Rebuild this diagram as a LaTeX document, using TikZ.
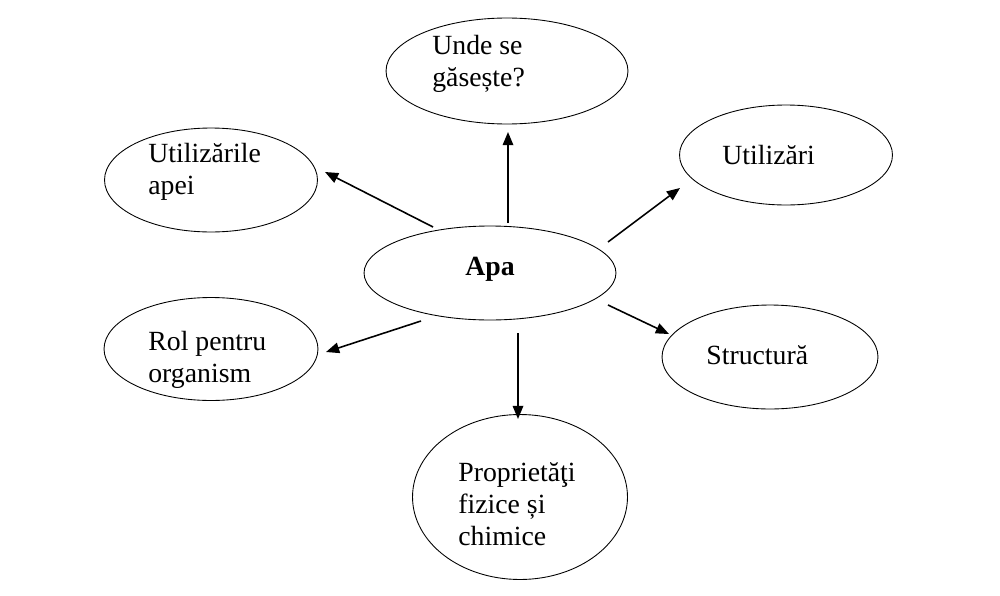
\documentclass[tikz,border=0pt]{standalone}
\usepackage{fontspec}
\setmainfont{Liberation Serif}
\usetikzlibrary{arrows.meta,calc,shapes.geometric,positioning}

\begin{document}
\begin{tikzpicture}[x=0.02cm,y=-0.02cm,
	bubble/.style={draw, ellipse, line width=0.5pt, inner sep=0pt},
	txt/.style={anchor=west, align=left, inner sep=0pt, font=\fontsize{15.8pt}{18.1pt}\selectfont},
	arr/.style={line width=0.9pt, -{Triangle[length=7.5pt,width=6pt]}}]
	\useasboundingbox (0,0) rectangle (1000,595);
	\node[bubble, minimum width=5.04cm, minimum height=1.88cm] (apa) at (490,273) {};
	\node[bubble, minimum width=4.84cm, minimum height=2.12cm] (unde) at (507,71) {};
	\node[bubble, minimum width=4.26cm, minimum height=2.08cm] (util1) at (211,180) {};
	\node[bubble, minimum width=4.26cm, minimum height=2.00cm] (util2) at (786,155) {};
	\node[bubble, minimum width=4.28cm, minimum height=2.06cm] (rol) at (211,349) {};
	\node[bubble, minimum width=4.32cm, minimum height=2.08cm] (struct) at (770,357) {};
	\node[bubble, minimum width=4.30cm, minimum height=3.30cm] (prop) at (520,497) {};
	\node[txt, anchor=center, font=\fontsize{15.8pt}{18.1pt}\selectfont\bfseries] (apa-t) at ($(apa)+(0,-4)$) {Apa};
	\node[txt] (unde-t) at ($(unde)+(-75,-7)$) {Unde se\\găsește?};
	\node[txt] (util1-t) at ($(util1)+(-63,-8)$) {Utilizările\\apei};
	\node[txt] (util2-t) at ($(util2)+(-64,0)$) {Utilizări};
	\node[txt] (rol-t) at ($(rol)+(-63,11)$) {Rol pentru\\organism};
	\node[txt] (struct-t) at ($(struct)+(-64,-2)$) {Structură};
	\node[txt] (prop-t) at ($(prop)+(-62,7)$) {Proprietăţi\\fizice și\\chimice};
	\draw[arr] ($(apa)+(18,-50)$) -- ($(unde)+(1,61)$);
	\draw[arr] ($(apa)+(-57,-46)$) -- ($(util1)+(114,-8)$);
	\draw[arr] ($(apa)+(-69,48)$) -- ($(rol)+(115,3)$);
	\draw[arr] ($(apa)+(118,-31)$) -- ($(util2)+(-106,33)$);
	\draw[arr] ($(apa)+(118,32)$) -- ($(struct)+(-101,-23)$);
	\draw[arr] ($(apa)+(28,60)$) -- ($(prop)+(-2,-78)$);
\end{tikzpicture}
\end{document}
